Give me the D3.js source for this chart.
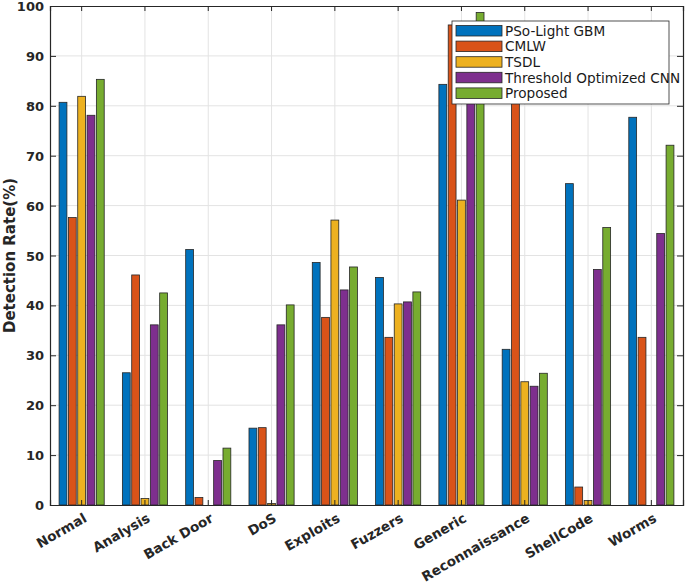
<!DOCTYPE html>
<html>
<head>
<meta charset="utf-8">
<script src="https://cdn.jsdelivr.net/npm/d3@7"></script>
<style>
  body { margin: 0; background: #fff; }
  svg text { font-family: 'DejaVu Sans', sans-serif; font-weight: bold; fill: #262626; }
  svg .legend-text { font-weight: normal; fill: #1a1a1a; }
</style>
</head>
<body>
<svg width="685" height="584"></svg>
<script>
  const categories = ['Normal', 'Analysis', 'Back Door', 'DoS', 'Exploits', 'Fuzzers',
    'Generic', 'Reconnaissance', 'ShellCode', 'Worms'];
  const seriesNames = ['PSo-Light GBM', 'CMLW', 'TSDL', 'Threshold Optimized CNN', 'Proposed'];
  const psoLightGbm = [80.7, 26.5, 51.2, 15.4, 48.6, 45.6, 84.3, 31.2, 64.4, 77.7];
  const cmlw        = [57.6, 46.1, 1.5, 15.5, 37.6, 33.6, 96.2, 92.0, 3.6, 33.6];
  const tsdl        = [81.9, 1.3, 0, 0.3, 57.1, 40.3, 61.1, 24.7, 0.9, 0];
  const thresholdCnn = [78.1, 36.1, 8.9, 36.1, 43.1, 40.7, 86.0, 23.8, 47.2, 54.4];
  const proposed    = [85.3, 42.5, 11.4, 40.1, 47.7, 42.7, 98.7, 26.4, 55.6, 72.1];
  const yTicks = [0, 10, 20, 30, 40, 50, 60, 70, 80, 90, 100];
  const colors = ['#0072BD', '#D95319', '#EDB120', '#7E2F8E', '#77AC30'];

  const seriesValues = [psoLightGbm, cmlw, tsdl, thresholdCnn, proposed];

  const svg = d3.select('svg');
  const width = +svg.attr('width');
  const height = +svg.attr('height');
  const margin = { top: 6, right: 2, bottom: 79, left: 50 };
  const innerWidth = width - margin.left - margin.right;
  const innerHeight = height - margin.top - margin.bottom;

  const g = svg.append('g')
    .attr('transform', `translate(${margin.left},${margin.top})`);

  const x0 = d3.scaleBand()
    .domain(categories)
    .range([0, innerWidth])
    .paddingInner(0.24)
    .paddingOuter(0.12);

  const x1 = d3.scaleBand()
    .domain(d3.range(seriesNames.length))
    .range([0, x0.bandwidth()])
    .padding(0.16);

  const yScale = d3.scaleLinear()
    .domain([0, 100])
    .range([innerHeight, 0]);

  const center = c => x0(c) + x0.bandwidth() / 2;

  // grid
  g.append('g').selectAll('line').data(yTicks.slice(1, -1))
    .enter().append('line')
      .attr('x1', 0).attr('x2', innerWidth)
      .attr('y1', d => yScale(d)).attr('y2', d => yScale(d))
      .attr('stroke', '#e3e3e3').attr('stroke-width', 1);
  g.append('g').selectAll('line').data(categories)
    .enter().append('line')
      .attr('x1', center).attr('x2', center)
      .attr('y1', 0).attr('y2', innerHeight)
      .attr('stroke', '#e3e3e3').attr('stroke-width', 1);

  // bars
  const rows = categories.map((c, i) => ({ c, vals: seriesValues.map(s => s[i]) }));
  const groups = g.selectAll('.grp').data(rows)
    .enter().append('g')
      .attr('transform', d => `translate(${x0(d.c)},0)`);
  groups.selectAll('rect').data(d => d.vals.map((v, k) => ({ v, k })))
    .enter().append('rect')
      .attr('x', d => x1(d.k))
      .attr('width', x1.bandwidth())
      .attr('y', d => yScale(d.v))
      .attr('height', d => innerHeight - yScale(d.v))
      .attr('fill', d => colors[d.k])
      .attr('stroke', '#262626')
      .attr('stroke-width', 0.8);

  // axes
  const yAxis = d3.axisLeft(yScale).tickValues(yTicks).tickSize(-6).tickPadding(6);
  const yAxisG = g.append('g').call(yAxis);
  yAxisG.selectAll('text').style('font-size', '13px').attr('dy', '0.35em');

  const yAxisR = d3.axisRight(yScale).tickValues(yTicks).tickSize(-6);
  g.append('g').attr('transform', `translate(${innerWidth},0)`).call(yAxisR)
    .selectAll('text').remove();

  const xAxis = d3.axisBottom(x0).tickSize(-5);
  g.append('g').attr('transform', `translate(0,${innerHeight})`).call(xAxis)
    .selectAll('text').remove();
  const xAxisT = d3.axisTop(x0).tickSize(-5);
  g.append('g').call(xAxisT)
    .selectAll('text').remove();

  g.selectAll('.domain').attr('stroke', '#262626').attr('stroke-width', 1.2);
  g.selectAll('.tick line').attr('stroke', '#262626');

  // rotated category labels
  g.append('g').selectAll('text').data(categories)
    .enter().append('text')
      .attr('transform', d => `translate(${center(d) + 6},${innerHeight + 16}) rotate(-30)`)
      .attr('text-anchor', 'end')
      .style('font-size', '13.5px')
      .text(d => d);

  g.append('text')
      .attr('transform', `translate(-35,${innerHeight / 2}) rotate(-90)`)
      .attr('text-anchor', 'middle')
      .style('font-size', '15px')
      .text('Detection Rate(%)');

  // legend
  const legend = g.append('g').attr('transform', 'translate(402,15)');
  legend.append('rect')
      .attr('width', 217).attr('height', 83)
      .attr('fill', '#fff').attr('stroke', '#262626').attr('stroke-width', 0.8);
  const items = legend.selectAll('.item').data(seriesNames)
    .enter().append('g')
      .attr('transform', (d, i) => `translate(4,${4.5 + i * 15.6})`);
  items.append('rect')
      .attr('width', 46).attr('height', 10.5)
      .attr('fill', (d, i) => colors[i])
      .attr('stroke', '#262626').attr('stroke-width', 0.8);
  items.append('text')
      .attr('class', 'legend-text')
      .attr('x', 49).attr('y', 5.5).attr('dy', '0.35em')
      .style('font-size', '13.6px')
      .style('font-weight', 500)
      .text(d => d);
</script>
</body>
</html>
